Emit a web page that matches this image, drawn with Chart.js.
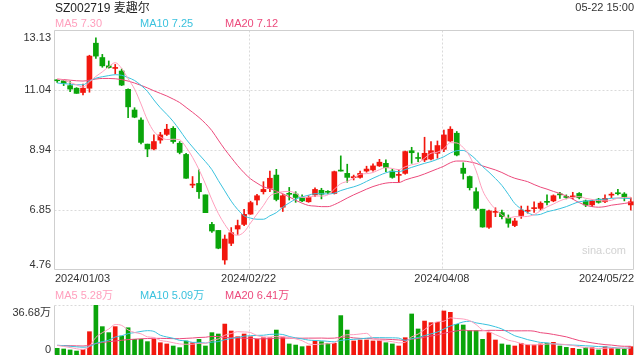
<!DOCTYPE html>
<html>
<head>
<meta charset="utf-8">
<script src="https://cdn.jsdelivr.net/npm/chart.js@4.4.1/dist/chart.umd.min.js"></script>
<style>
  html, body { margin: 0; padding: 0; background: #fff; }
  #wrap { position: relative; width: 640px; height: 360px; overflow: hidden; }
  canvas { position: absolute; left: 0; top: 0; }
  .t { position: absolute; white-space: nowrap; line-height: 1; font-family: Arial, "Liberation Sans", "Noto Sans CJK SC", sans-serif; font-size: 11px; color: #333; }
</style>
</head>
<body>
<div id="wrap">
  <canvas id="kline" width="640" height="360"></canvas>
  <canvas id="vol" width="640" height="360"></canvas>
  <div class="t" style="left:55px;top:2px;font-size:12px;color:#222">SZ002719 麦趣尔</div>
  <div class="t" style="right:6px;top:2px">05-22 15:00</div>
  <div class="t" id="lg5" style="left:55px;top:18px"></div>
  <div class="t" id="lg10" style="left:140px;top:18px"></div>
  <div class="t" id="lg20" style="left:225px;top:18px"></div>
  <div class="t" id="vg5" style="left:55px;top:290px"></div>
  <div class="t" id="vg10" style="left:140px;top:290px"></div>
  <div class="t" id="vg20" style="left:225px;top:290px"></div>
  <div class="t" style="left:582px;top:245px;color:#d2d2d2">sina.com</div>
</div>
<script>
// trading days
const dates = [
  '2024/01/03','2024/01/04','2024/01/05','2024/01/08','2024/01/09','2024/01/10','2024/01/11','2024/01/12','2024/01/15','2024/01/16',
  '2024/01/17','2024/01/18','2024/01/19','2024/01/22','2024/01/23','2024/01/24','2024/01/25','2024/01/26','2024/01/29','2024/01/30',
  '2024/01/31','2024/02/01','2024/02/02','2024/02/05','2024/02/06','2024/02/07','2024/02/08','2024/02/19','2024/02/20','2024/02/21',
  '2024/02/22','2024/02/23','2024/02/26','2024/02/27','2024/02/28','2024/02/29','2024/03/01','2024/03/04','2024/03/05','2024/03/06',
  '2024/03/07','2024/03/08','2024/03/11','2024/03/12','2024/03/13','2024/03/14','2024/03/15','2024/03/18','2024/03/19','2024/03/20',
  '2024/03/21','2024/03/22','2024/03/25','2024/03/26','2024/03/27','2024/03/28','2024/03/29','2024/04/01','2024/04/02','2024/04/03',
  '2024/04/08','2024/04/09','2024/04/10','2024/04/11','2024/04/12','2024/04/15','2024/04/16','2024/04/17','2024/04/18','2024/04/19',
  '2024/04/22','2024/04/23','2024/04/24','2024/04/25','2024/04/26','2024/04/29','2024/04/30','2024/05/06','2024/05/07','2024/05/08',
  '2024/05/09','2024/05/10','2024/05/13','2024/05/14','2024/05/15','2024/05/16','2024/05/17','2024/05/20','2024/05/21','2024/05/22'
];

const open = [
  11.37, 11.36, 11.19, 11.10, 10.95, 11.10, 12.67, 12.17, 11.88, 11.79,
  11.70, 11.06, 10.34, 9.99, 9.15, 8.98, 9.29, 9.49, 9.70, 9.18,
  8.79, 7.72, 7.78, 7.38, 6.35, 6.14, 5.11, 5.69, 6.19, 6.35,
  6.71, 7.20, 7.49, 7.61, 8.07, 6.95, 7.41, 7.41, 7.29, 7.14,
  7.38, 7.54, 7.48, 7.43, 8.22, 8.13, 7.98, 7.99, 8.21, 8.25,
  8.39, 8.48, 8.21, 8.06, 8.13, 8.92, 8.66, 8.60, 8.63, 8.83,
  8.97, 9.26, 9.53, 8.31, 8.02, 7.49, 6.88, 6.25, 6.77, 6.76,
  6.56, 6.31, 6.66, 6.81, 6.90, 6.91, 7.13, 7.17, 7.41, 7.30,
  7.31, 7.43, 7.17, 7.03, 7.23, 7.14, 7.37, 7.43, 7.41, 7.03
];
const high = [
  11.40, 11.38, 11.33, 11.12, 11.24, 12.25, 12.86, 12.28, 12.05, 11.93,
  11.77, 11.08, 10.42, 10.07, 9.15, 9.47, 9.56, 9.84, 9.76, 9.24,
  8.83, 8.02, 8.25, 7.38, 6.42, 6.14, 5.98, 6.24, 6.50, 6.88,
  7.16, 7.40, 7.84, 8.21, 8.27, 7.39, 7.64, 7.49, 7.38, 7.35,
  7.63, 7.61, 7.53, 8.21, 8.74, 8.45, 8.07, 8.21, 8.38, 8.46,
  8.62, 8.60, 8.27, 8.25, 8.91, 9.04, 8.85, 9.39, 9.24, 9.26,
  9.64, 9.76, 9.59, 8.50, 8.04, 7.63, 6.88, 6.85, 6.93, 6.85,
  6.68, 6.56, 6.99, 6.99, 7.14, 7.14, 7.38, 7.38, 7.47, 7.38,
  7.47, 7.46, 7.20, 7.20, 7.26, 7.38, 7.46, 7.57, 7.46, 7.28
];
const low = [
  11.30, 11.19, 10.98, 10.92, 10.87, 10.96, 12.14, 11.83, 11.80, 11.60,
  11.19, 10.07, 10.07, 9.16, 8.71, 8.95, 9.18, 9.45, 9.18, 8.81,
  7.95, 7.63, 7.26, 6.76, 6.07, 5.50, 4.96, 5.61, 6.00, 6.31,
  6.70, 7.03, 7.41, 7.49, 7.17, 6.80, 7.20, 7.12, 7.14, 7.12,
  7.32, 7.24, 7.41, 7.41, 8.21, 7.82, 7.90, 7.96, 8.17, 8.21,
  8.37, 8.19, 7.96, 7.82, 8.10, 8.48, 8.54, 8.54, 8.60, 8.66,
  8.89, 9.24, 8.74, 7.93, 7.55, 6.85, 6.25, 6.21, 6.62, 6.54,
  6.25, 6.27, 6.56, 6.74, 6.77, 6.85, 7.03, 7.14, 7.26, 7.24,
  7.24, 7.24, 6.97, 6.97, 7.09, 7.11, 7.28, 7.38, 7.17, 6.85
];
const close = [
  11.36, 11.27, 11.07, 10.92, 11.10, 12.22, 12.22, 11.88, 11.82, 11.80,
  11.21, 10.45, 10.09, 9.21, 8.98, 9.24, 9.47, 9.67, 9.24, 8.86,
  7.96, 7.74, 7.49, 6.76, 6.12, 5.52, 5.84, 6.06, 6.31, 6.70,
  7.11, 7.35, 7.57, 7.96, 7.22, 7.35, 7.40, 7.29, 7.17, 7.29,
  7.57, 7.40, 7.47, 8.19, 8.21, 7.99, 7.99, 8.13, 8.28, 8.39,
  8.52, 8.33, 7.99, 8.07, 8.89, 8.85, 8.65, 8.83, 8.92, 9.10,
  9.47, 9.67, 8.77, 8.13, 7.63, 6.91, 6.26, 6.82, 6.78, 6.62,
  6.39, 6.47, 6.85, 6.82, 6.91, 7.09, 7.12, 7.35, 7.38, 7.29,
  7.32, 7.28, 7.03, 7.17, 7.12, 7.26, 7.38, 7.42, 7.29, 7.14
];

const ma5 = [
  11.42, 11.38, 11.30, 11.22, 11.14, 11.32, 11.51, 11.67, 11.85, 11.99,
  11.79, 11.43, 11.07, 10.55, 9.99, 9.59, 9.40, 9.31, 9.32, 9.30,
  9.04, 8.69, 8.26, 7.76, 7.21, 6.73, 6.35, 6.06, 5.97, 6.09,
  6.40, 6.71, 7.01, 7.34, 7.44, 7.49, 7.50, 7.44, 7.29, 7.30,
  7.34, 7.34, 7.38, 7.58, 7.77, 7.85, 7.97, 8.10, 8.12, 8.16,
  8.26, 8.33, 8.30, 8.26, 8.36, 8.43, 8.49, 8.66, 8.83, 8.87,
  8.99, 9.20, 9.19, 9.03, 8.73, 8.22, 7.54, 7.15, 6.88, 6.68,
  6.57, 6.62, 6.62, 6.63, 6.69, 6.83, 6.96, 7.06, 7.17, 7.25,
  7.29, 7.32, 7.26, 7.22, 7.18, 7.17, 7.19, 7.27, 7.29, 7.30
];
const ma10 = [
  11.28, 11.26, 11.24, 11.22, 11.22, 11.35, 11.45, 11.50, 11.54, 11.57,
  11.55, 11.47, 11.37, 11.20, 10.99, 10.69, 10.42, 10.19, 9.94, 9.64,
  9.32, 9.05, 8.79, 8.54, 8.26, 7.88, 7.52, 7.16, 6.87, 6.65,
  6.57, 6.53, 6.53, 6.65, 6.76, 6.95, 7.10, 7.23, 7.31, 7.37,
  7.42, 7.42, 7.41, 7.44, 7.53, 7.60, 7.66, 7.74, 7.85, 7.96,
  8.06, 8.15, 8.20, 8.19, 8.26, 8.34, 8.41, 8.48, 8.54, 8.62,
  8.71, 8.84, 8.92, 8.93, 8.80, 8.61, 8.37, 8.17, 7.95, 7.71,
  7.40, 7.08, 6.89, 6.76, 6.68, 6.70, 6.79, 6.84, 6.90, 6.97,
  7.06, 7.14, 7.16, 7.19, 7.22, 7.23, 7.26, 7.27, 7.26, 7.25
];
const ma20 = [
  11.42, 11.40, 11.38, 11.36, 11.35, 11.38, 11.42, 11.44, 11.44, 11.43,
  11.40, 11.35, 11.28, 11.20, 11.11, 11.01, 10.92, 10.83, 10.72, 10.60,
  10.43, 10.26, 10.08, 9.87, 9.62, 9.29, 8.97, 8.68, 8.40, 8.15,
  7.94, 7.79, 7.66, 7.60, 7.51, 7.42, 7.31, 7.19, 7.09, 7.01,
  6.99, 6.97, 6.97, 7.04, 7.15, 7.27, 7.38, 7.48, 7.58, 7.67,
  7.74, 7.79, 7.81, 7.81, 7.90, 7.97, 8.03, 8.11, 8.20, 8.29,
  8.38, 8.50, 8.56, 8.56, 8.53, 8.48, 8.39, 8.32, 8.25, 8.16,
  8.05, 7.96, 7.90, 7.84, 7.74, 7.65, 7.58, 7.50, 7.43, 7.34,
  7.23, 7.11, 7.02, 6.97, 6.95, 6.97, 7.02, 7.05, 7.08, 7.12
];

// volume, in 万
const volume = [
  4.9, 4.4, 3.7, 2.9, 4.2, 17.1, 36.68, 20.8, 16.4, 20.8,
  13.9, 20.0, 11.5, 11.5, 9.8, 11.5, 9.0, 8.1, 6.6, 5.4,
  10.3, 9.0, 11.5, 6.6, 16.4, 15.4, 22.7, 17.6, 13.4, 15.4,
  13.4, 11.5, 12.7, 12.7, 18.3, 12.7, 8.1, 7.3, 6.1, 6.6,
  10.3, 9.8, 8.6, 8.6, 28.9, 18.3, 10.3, 11.0, 11.0, 10.3,
  10.5, 9.0, 8.1, 6.6, 12.7, 30.1, 19.1, 24.9, 23.7, 24.0,
  32.3, 31.3, 22.5, 22.0, 17.9, 17.9, 11.5, 16.4, 11.0, 8.1,
  7.3, 6.6, 8.6, 7.3, 7.3, 8.1, 8.6, 9.3, 6.6, 5.6,
  4.9, 4.2, 5.4, 5.4, 3.7, 6.1, 4.9, 4.9, 4.9, 6.1
];
const volMa5 = [
  7.0, 6.3, 5.5, 4.6, 4.02, 6.46, 12.92, 16.34, 19.04, 22.36,
  21.72, 18.38, 16.52, 15.54, 13.34, 12.86, 10.66, 9.98, 9.00, 8.12,
  7.88, 7.88, 8.56, 8.56, 10.76, 11.78, 14.52, 15.74, 17.10, 16.90,
  16.50, 14.26, 13.28, 13.14, 13.72, 13.58, 12.90, 11.82, 10.50, 8.16,
  7.68, 8.02, 8.28, 8.78, 13.24, 14.84, 14.94, 15.42, 15.90, 12.18,
  10.62, 10.36, 9.78, 8.90, 9.38, 13.30, 15.32, 18.68, 22.10, 24.36,
  24.80, 27.24, 26.76, 26.42, 25.20, 22.32, 18.36, 17.14, 14.94, 12.98,
  10.86, 9.88, 8.32, 7.58, 7.42, 7.58, 7.98, 8.12, 7.98, 7.64,
  7.00, 6.12, 5.34, 5.10, 4.72, 4.96, 5.10, 5.00, 4.90, 5.28
];
const volMa10 = [
  7.2, 6.8, 6.4, 6.0, 5.7, 6.2, 8.5, 9.8, 10.9, 13.19,
  14.09, 15.65, 16.43, 17.29, 17.85, 17.29, 14.52, 13.25, 12.27, 10.73,
  10.37, 9.27, 9.27, 8.78, 9.44, 9.83, 11.20, 12.15, 12.83, 13.83,
  14.14, 14.39, 14.51, 15.12, 15.31, 15.04, 13.58, 12.55, 11.82, 10.94,
  10.63, 10.46, 10.05, 9.64, 10.70, 11.26, 11.48, 11.85, 12.34, 12.71,
  12.73, 12.65, 12.60, 12.40, 10.78, 11.96, 12.84, 14.23, 15.50, 16.87,
  19.05, 21.28, 22.72, 24.26, 24.78, 23.56, 22.80, 21.95, 20.68, 19.09,
  16.59, 14.12, 12.73, 11.26, 10.20, 9.22, 8.93, 8.22, 7.78, 7.53,
  7.29, 7.05, 6.73, 6.54, 6.18, 5.98, 5.61, 5.17, 5.00, 5.09
];
const volMa20 = [
  7.0, 6.9, 6.8, 6.7, 6.6, 7.2, 8.4, 9.2, 9.8, 10.3,
  10.8, 11.3, 11.6, 11.9, 12.1, 12.2, 12.2, 12.1, 12.0, 11.96,
  12.23, 12.46, 12.85, 13.03, 13.64, 13.56, 12.86, 12.70, 12.55, 12.28,
  12.26, 11.83, 11.89, 11.95, 12.38, 12.44, 12.39, 12.35, 12.33, 12.39,
  12.39, 12.43, 12.28, 12.38, 13.00, 13.15, 12.53, 12.20, 12.08, 11.83,
  11.68, 11.56, 11.33, 11.02, 10.74, 11.61, 12.16, 13.04, 13.92, 14.79,
  15.89, 16.97, 17.66, 18.33, 17.78, 17.76, 17.82, 18.09, 18.09, 17.98,
  17.82, 17.70, 17.73, 17.76, 17.49, 16.39, 15.87, 15.09, 14.23, 13.31,
  11.94, 10.59, 9.73, 8.90, 8.19, 7.60, 7.27, 6.70, 6.39, 6.41
];

const priceTicks = [13.13, 11.04, 8.94, 6.85, 4.76];
const volTicks = [36.68, 0];
const dateTicks = [0, 30, 60, 89];

const RED = '#f2170e', GREEN = '#0aa50a';
const C5 = '#ff9fbd', C10 = '#3ac2de', C20 = '#ec4a7c';
const FONT = '11px Arial, "Liberation Sans", "Noto Sans CJK SC", sans-serif';

const candleColor = ctx => close[ctx.dataIndex] >= open[ctx.dataIndex] ? RED : GREEN;

// legends
const setText = (id, txt, col) => { const el = document.getElementById(id); el.textContent = txt; el.style.color = col; };
const last = a => a[a.length - 1];
setText('lg5', 'MA5 ' + last(ma5).toFixed(2), C5);
setText('lg10', 'MA10 ' + last(ma10).toFixed(2), C10);
setText('lg20', 'MA20 ' + last(ma20).toFixed(2), C20);
setText('vg5', 'MA5 ' + last(volMa5).toFixed(2) + '万', C5);
setText('vg10', 'MA10 ' + last(volMa10).toFixed(2) + '万', C10);
setText('vg20', 'MA20 ' + last(volMa20).toFixed(2) + '万', C20);

// grid, frame and axis labels
function framePlugin(cfg) {
  return {
    id: 'frame',
    beforeDatasetsDraw(chart) {
      const { ctx, chartArea: a, scales: { x, y } } = chart;
      const l = a.left + 0.5, r = a.right - 0.5, t = a.top + 0.5, b = a.bottom - 0.5;
      const seg = (x1, y1, x2, y2) => { ctx.beginPath(); ctx.moveTo(x1, y1); ctx.lineTo(x2, y2); ctx.stroke(); };
      ctx.save();
      ctx.lineWidth = 1;
      ctx.strokeStyle = '#dadada';
      ctx.setLineDash([2, 2]);
      cfg.ticks.forEach(v => {
        if (v === y.max || v === y.min) return;
        const py = Math.round(y.getPixelForValue(v)) + 0.5;
        seg(l, py, r, py);
      });
      [30, 60].forEach(i => {
        const px = Math.round(x.getPixelForValue(i)) - 1.5;
        seg(px, t, px, b);
      });
      if (cfg.dottedEdges) { seg(l, t, r, t); seg(l, b, r, b); }
      ctx.setLineDash([]);
      ctx.strokeStyle = '#cfcfcf';
      seg(l, t, l, b);
      seg(r, t, r, b);
      if (!cfg.dottedEdges) { seg(l, t, r, t); seg(l, b, r, b); }
      ctx.restore();
    },
    afterDraw(chart) {
      const { ctx, chartArea: a, scales: { x, y } } = chart;
      ctx.save();
      ctx.font = FONT;
      ctx.fillStyle = '#333';
      ctx.textAlign = 'right';
      cfg.ticks.forEach(v => {
        let yy = y.getPixelForValue(v);
        ctx.textBaseline = 'middle';
        if (v === y.max) { ctx.textBaseline = 'top'; yy = a.top + 2; }
        else if (v === y.min) { ctx.textBaseline = 'alphabetic'; yy = a.bottom - 2; }
        ctx.fillText(cfg.fmt(v), a.left - 3, yy);
      });
      if (cfg.dates) {
        ctx.textBaseline = 'alphabetic';
        dateTicks.forEach((i, k) => {
          ctx.textAlign = k === 0 ? 'left' : (k === dateTicks.length - 1 ? 'right' : 'center');
          const px = k === 0 ? a.left + 1 : (k === dateTicks.length - 1 ? a.right : x.getPixelForValue(i) - 2);
          ctx.fillText(dates[i], px, a.bottom + 12);
        });
      }
      ctx.restore();
    }
  };
}

const maLine = (data, color) => ({
  type: 'line', data, borderColor: color, borderWidth: 1, pointRadius: 0,
  cubicInterpolationMode: 'monotone', fill: false, order: 0
});

new Chart(document.getElementById('kline'), {
  type: 'bar',
  data: {
    labels: dates,
    datasets: [
      maLine(ma5, C5),
      maLine(ma10, C10),
      maLine(ma20, C20),
      {
        data: dates.map((d, i) => [open[i], close[i]]),
        backgroundColor: candleColor, barThickness: 5, minBarLength: 1,
        grouped: false, order: 1
      },
      {
        data: dates.map((d, i) => [low[i], high[i]]),
        backgroundColor: candleColor, barThickness: 1,
        grouped: false, order: 2
      }
    ]
  },
  options: {
    responsive: false,
    animation: false,
    events: [],
    layout: { padding: { left: 54, right: 6, top: 30, bottom: 90 } },
    plugins: { legend: { display: false }, tooltip: { enabled: false } },
    scales: {
      x: { display: false, offset: true },
      y: { display: false, min: 4.76, max: 13.13 }
    }
  },
  plugins: [framePlugin({ ticks: priceTicks, fmt: v => v.toFixed(2), dates: true, dottedEdges: false })]
});

new Chart(document.getElementById('vol'), {
  type: 'bar',
  data: {
    labels: dates,
    datasets: [
      maLine(volMa5, C5),
      maLine(volMa10, C10),
      maLine(volMa20, C20),
      {
        data: volume,
        backgroundColor: candleColor, barThickness: 4, order: 1
      }
    ]
  },
  options: {
    responsive: false,
    animation: false,
    events: [],
    layout: { padding: { left: 54, right: 6, top: 305, bottom: 5 } },
    plugins: { legend: { display: false }, tooltip: { enabled: false } },
    scales: {
      x: { display: false, offset: true },
      y: { display: false, min: 0, max: 36.68 }
    }
  },
  plugins: [framePlugin({ ticks: volTicks, fmt: v => v ? v.toFixed(2) + '万' : '0', dates: false, dottedEdges: true })]
});
</script>
</body>
</html>
